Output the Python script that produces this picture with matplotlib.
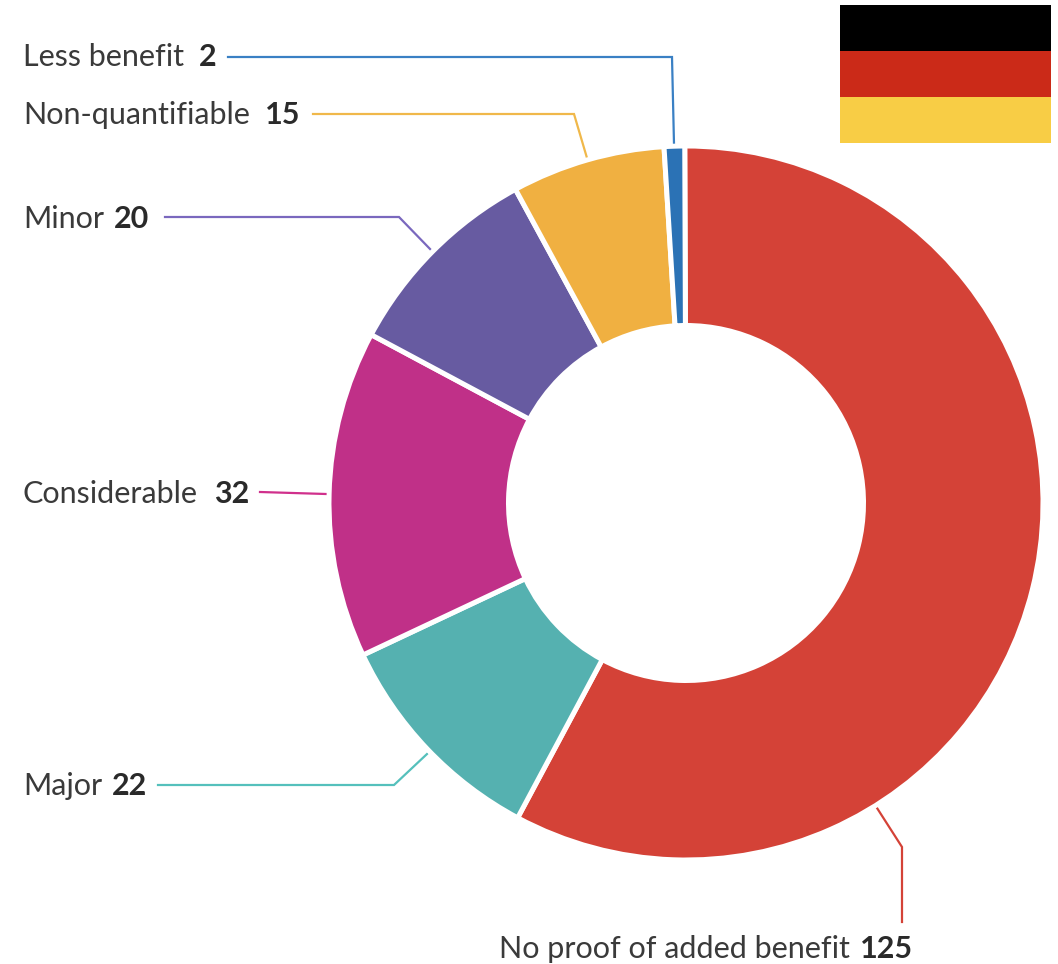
import matplotlib
matplotlib.use("Agg")
import matplotlib.pyplot as plt
from matplotlib.patches import Rectangle

# ratings, clockwise from 12 o'clock
labels = ["No proof of added benefit", "Major", "Considerable", "Minor", "Non-quantifiable", "Less benefit"]
values = [125, 22, 32, 20, 15, 2]
colors = ["#D44237", "#55B1B0", "#C03088", "#675BA1", "#F0B041", "#2B72B5"]
line_colors = ["#D44237", "#55C0BC", "#D0308C", "#7A68BE", "#F0B84A", "#3A80C4"]
flag_colors = ["#000000", "#CB2A18", "#F8CD45"]

W, H = 1058, 964
plt.rcParams["font.family"] = ["Lato", "DejaVu Sans"]
fig = plt.figure(figsize=(W / 100, H / 100), dpi=100)

# whole figure in pixel coordinates, y pointing down
ax = fig.add_axes([0, 0, 1, 1])
ax.set_xlim(0, W)
ax.set_ylim(H, 0)
ax.axis("off")

# donut in its own square axes
cx, cy, r = 686, 503, 357
hole = 177.5
pie_ax = fig.add_axes([(cx - r) / W, 1 - (cy + r) / H, 2 * r / W, 2 * r / H])
pie_ax.pie(values, colors=colors, startangle=90.2, counterclock=False, radius=1,
           wedgeprops=dict(width=1 - hole / r, edgecolor="white", linewidth=3.6))
pie_ax.set_xlim(-1, 1)
pie_ax.set_ylim(-1, 1)

# leader lines, one per label
leaders = [
    ([877, 902, 902], [808, 847, 922]),
    ([158, 394, 427], [785, 785, 754]),
    ([260, 326], [492, 494]),
    ([165, 399, 431], [217, 217, 250]),
    ([313, 574, 587], [114, 114, 158]),
    ([228, 672, 674], [57, 57, 144]),
]
for (xs, ys), c in zip(leaders, line_colors):
    ax.plot(xs, ys, color=c, lw=1.6, solid_joinstyle="miter")

# label text, with the count in bold after the name
label_pos = [(499, 958), (23, 795), (23, 503), (23, 228), (23, 124), (23, 66)]
count_x = [860, 112, 214, 114, 265, 199]
fs = 22
for name, v, (x, y), vx in zip(labels, values, label_pos, count_x):
    ax.text(x, y, name, fontsize=fs, color="#3A3A3A", va="baseline", ha="left")
    ax.text(vx, y, str(v), fontsize=fs, color="#2A2A2A", va="baseline", ha="left", fontweight="bold")

# flag in the top right corner
for i, c in enumerate(flag_colors):
    ax.add_patch(Rectangle((840, 5 + i * 46), 211, 46, facecolor=c, edgecolor="none", zorder=5))

fig.savefig("out.png", dpi=100)
